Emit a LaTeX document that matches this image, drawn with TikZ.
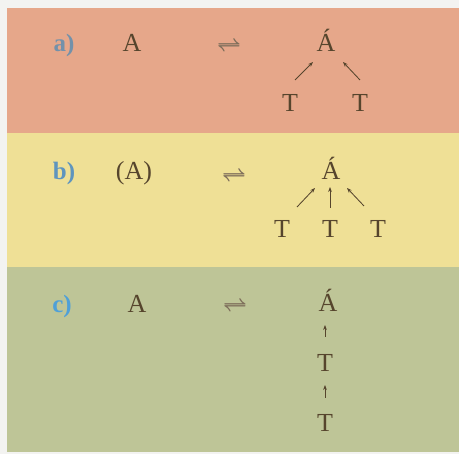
\documentclass[tikz,border=0pt]{standalone}
\usepackage{fontspec}
\setmainfont{Liberation Serif}
\usetikzlibrary{arrows.meta}
\definecolor{bgout}{HTML}{F3F3F1}
\definecolor{bandA}{HTML}{E6A78A}
\definecolor{bandB}{HTML}{EFE096}
\definecolor{bandC}{HTML}{BEC597}
\definecolor{ink}{HTML}{56452D}
\definecolor{eqink}{HTML}{7D6D5A}
\definecolor{labA}{HTML}{7391AA}
\definecolor{labB}{HTML}{5F95BE}
\definecolor{labC}{HTML}{4FA0D8}
\tikzset{
  letter/.style={anchor=base, inner sep=0pt, text=ink, font=\fontsize{26}{30}\selectfont},
  lab/.style={anchor=base, inner sep=0pt, font=\fontsize{25}{30}\selectfont\bfseries},
  eqsign/.style={anchor=center, inner sep=0pt, text=eqink, font=\fontsize{22}{26}\selectfont\boldmath},
  arr/.style={draw=ink, line width=0.85pt, -{Stealth[length=5pt,width=3.8pt]}}
}
\begin{document}
\begin{tikzpicture}[x=1pt,y=-1pt]
\useasboundingbox (0,0) rectangle (459,454);
\fill[bgout] (0,0) rectangle (459,454);
\fill[bandA] (7,8) rectangle (459,133);
\fill[bandB] (7,133) rectangle (459,267);
\fill[bandC] (7,267) rectangle (459,452);
% a)
\node[lab, text=labA] (la) at (64,52) {a)};
\node[letter] (aA1) at (132,52) {A};
\node[eqsign] (aEq) at (229,47) {$\rightleftharpoons$};
\node[letter] (aA2) at (326,52) {Á};
\node[letter] (aT1) at (290,112) {T};
\node[letter] (aT2) at (360,112) {T};
\draw[arr] ([shift={(5,-32)}]aT1.base) -- ([shift={(-13,10)}]aA2.base);
\draw[arr] ([shift={(0,-32)}]aT2.base) -- ([shift={(17,10)}]aA2.base);
% b)
\node[lab, text=labB] (lb) at (64,180) {b)};
\node[letter] (bA1) at (134,180) {(A)};
\node[eqsign] (bEq) at (234,177) {$\rightleftharpoons$};
\node[letter] (bA2) at (331,180) {Á};
\node[letter] (bT1) at (282,238) {T};
\node[letter] (bT2) at (330,238) {T};
\node[letter] (bT3) at (378,238) {T};
\draw[arr] ([shift={(15,-31)}]bT1.base) -- ([shift={(-16,8)}]bA2.base);
\draw[arr] ([shift={(0,-30)}]bT2.base) -- ([shift={(-1,7)}]bA2.base);
\draw[arr] ([shift={(-14,-32)}]bT3.base) -- ([shift={(16,8)}]bA2.base);
% c)
\node[lab, text=labC] (lc) at (62,313) {c)};
\node[letter] (cA1) at (137,313) {A};
\node[eqsign] (cEq) at (235,307) {$\rightleftharpoons$};
\node[letter] (cA2) at (328,312) {Á};
\node[letter] (cT1) at (325,372) {T};
\node[letter] (cT2) at (325,432) {T};
\draw[arr] ([shift={(0,-35)}]cT1.base) -- ([shift={(-3,13)}]cA2.base);
\draw[arr] ([shift={(0,-34)}]cT2.base) -- ([shift={(0,13)}]cT1.base);
\end{tikzpicture}
\end{document}
